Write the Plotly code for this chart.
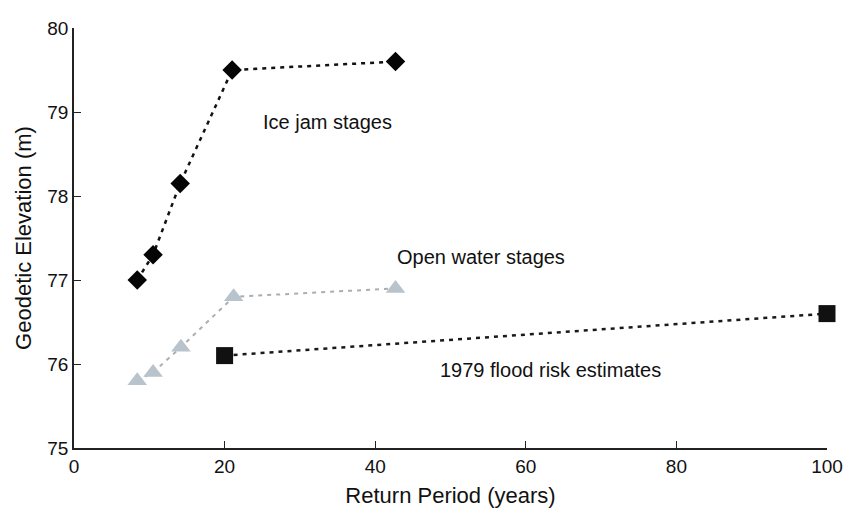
import plotly.graph_objects as go

# Data
ice_x = [8.4, 10.5, 14.1, 21.0, 42.7]
ice_y = [77.0, 77.3, 78.15, 79.5, 79.6]

open_x = [8.4, 10.5, 14.2, 21.2, 42.7]
open_y = [75.8, 75.9, 76.2, 76.8, 76.9]

flood_x = [20, 100]
flood_y = [76.1, 76.6]

x_ticks = [0, 20, 40, 60, 80, 100]
y_ticks = [75, 76, 77, 78, 79, 80]

label_text = ["Ice jam stages", "Open water stages", "1979 flood risk estimates"]
label_x = [33.7, 54.0, 63.3]
label_y = [78.88, 77.27, 75.93]

FONT = "Liberation Sans, Arial, Helvetica, sans-serif"

fig = go.Figure()

fig.add_trace(go.Scatter(
    x=open_x, y=open_y, mode="lines+markers",
    line=dict(color="#a9aeb3", width=2, dash="4px,5px"),
    marker=dict(symbol="triangle-up", size=17, color="#b9c3cc",
                line=dict(width=0)),
    showlegend=False, cliponaxis=False))

fig.add_trace(go.Scatter(
    x=flood_x, y=flood_y, mode="lines+markers",
    line=dict(color="#1a1a1a", width=2.5, dash="4px,5px"),
    marker=dict(symbol="square", size=17, color="#111111",
                line=dict(width=0)),
    showlegend=False, cliponaxis=False))

fig.add_trace(go.Scatter(
    x=ice_x, y=ice_y, mode="lines+markers",
    line=dict(color="#111111", width=2.5, dash="4px,5px"),
    marker=dict(symbol="diamond", size=15, color="#050505",
                line=dict(width=0)),
    showlegend=False, cliponaxis=False))

for t, x, y in zip(label_text, label_x, label_y):
    fig.add_annotation(x=x, y=y, text=t, showarrow=False,
                       xref="x", yref="y",
                       font=dict(family=FONT, size=20, color="#111111"))

fig.update_layout(
    width=844, height=513,
    margin=dict(l=74, r=17, t=28, b=65, autoexpand=False),
    paper_bgcolor="white", plot_bgcolor="white",
    font=dict(family=FONT, size=19, color="#111111"),
    xaxis=dict(range=[0, 100], tickvals=x_ticks, ticktext=[str(v) for v in x_ticks],
               ticks="inside", ticklen=7, tickcolor="#222", tickwidth=1,
               showline=True, linecolor="#222", linewidth=1.5, mirror=False,
               showgrid=False, zeroline=False, automargin=False,
               tickfont=dict(size=19),
               title=dict(text="Return Period (years)", font=dict(size=22), standoff=12)),
    yaxis=dict(range=[75, 80], tickvals=y_ticks, ticktext=[str(v) for v in y_ticks],
               ticks="inside", ticklen=7, tickcolor="#222", tickwidth=1,
               showline=True, linecolor="#222", linewidth=1.5, mirror=False,
               showgrid=False, zeroline=False, automargin=False,
               tickfont=dict(size=19),
               title=dict(text="Geodetic Elevation (m)", font=dict(size=22), standoff=10)),
)

fig.write_html("out.html", config={"displayModeBar": False},
               post_script="document.body.style.margin='0';")
